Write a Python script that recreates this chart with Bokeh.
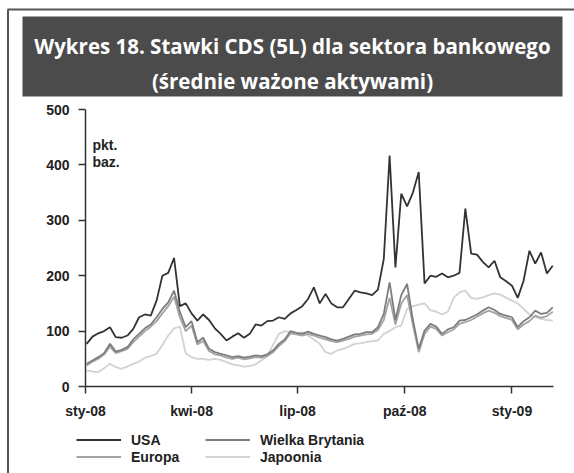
import pandas as pd
from bokeh.plotting import figure
from bokeh.models import (ColumnDataSource, Range1d, FixedTicker, Legend, LegendItem)
from bokeh.core.properties import value
from bokeh.embed import file_html
from bokeh.resources import INLINE

# ---------------- data (pkt. baz.) ----------------
dates = pd.date_range("2008-01-02", periods=81, freq="5D")

usa = [77, 90, 96, 100, 107, 89, 88, 92, 104, 125,
       130, 128, 155, 200, 205, 232, 145, 150, 132, 119,
       130, 120, 105, 95, 83, 90, 96, 88, 95, 112,
       110, 118, 119, 125, 122, 132, 138, 145, 158, 179,
       150, 167, 150, 143, 143, 158, 173, 170, 168, 165,
       175, 230, 417, 215, 348, 325, 350, 387, 186, 200,
       198, 204, 197, 200, 205, 321, 240, 238, 225, 215,
       227, 197, 190, 182, 160, 191, 245, 222, 242, 204,
       218]

wb = [41, 47, 53, 60, 77, 63, 66, 71, 85, 95,
      105, 112, 125, 140, 152, 173, 135, 107, 118, 80,
      88, 68, 62, 59, 56, 53, 55, 52, 54, 56,
      55, 58, 65, 77, 85, 100, 97, 95, 99, 95,
      92, 89, 85, 83, 86, 90, 94, 95, 98, 98,
      107, 131, 188, 120, 165, 185, 120, 68, 101, 113,
      108, 95, 103, 107, 119, 120, 125, 130, 137, 143,
      138, 131, 128, 125, 107, 118, 125, 137, 131, 133,
      143]

europa = [38, 45, 50, 58, 72, 60, 64, 68, 80, 90,
          100, 108, 118, 132, 145, 162, 125, 100, 110, 76,
          82, 64, 58, 56, 52, 50, 52, 49, 51, 53,
          52, 55, 62, 73, 82, 96, 94, 92, 95, 92,
          88, 85, 82, 80, 83, 86, 90, 92, 94, 95,
          102, 120, 160, 112, 150, 165, 112, 62, 95, 108,
          104, 92, 98, 103, 113, 116, 120, 126, 132, 137,
          133, 127, 124, 120, 103, 112, 118, 128, 124, 127,
          135]

japonia = [29, 27, 26, 33, 41, 35, 32, 36, 41, 45,
           52, 55, 59, 75, 92, 105, 108, 60, 53, 50,
           50, 48, 50, 48, 44, 40, 38, 36, 37, 40,
           47, 55, 75, 95, 100, 98, 96, 98, 92, 85,
           77, 62, 59, 65, 68, 72, 77, 78, 80, 82,
           83, 95, 100, 107, 110, 140, 145, 148, 150, 138,
           135, 130, 135, 160, 170, 173, 160, 158, 161, 165,
           168, 166, 160, 155, 150, 140, 130, 125, 122, 120,
           119]

series_names = ["USA", "Wielka Brytania", "Europa", "Japoonia"]
series_colors = ["#333333", "#7d7d7d", "#a3a3a3", "#d2d2d2"]

tick_dates = ["2008-01-01", "2008-04-01", "2008-07-01", "2008-10-01", "2009-01-01"]
tick_labels = ["sty-08", "kwi-08", "lip-08", "paź-08", "sty-09"]
y_ticks = [0, 100, 200, 300, 400, 500]
axis_x_start, axis_x_end = "2008-01-01", "2009-02-05 16:00"
axis_y_start, axis_y_end = 0, 500

title_lines = ["Wykres 18. Stawki CDS (5L) dla sektora bankowego",
               "(średnie ważone aktywami)"]
unit_lines = ["pkt.", "baz."]

# ---------------- layout (canvas pixels) ----------------
W, H = 574, 473
AX_LEFT, AX_RIGHT = 85, 553      # pixel x of plot-area left/right
AX_BOTTOM, AX_TOP = 386, 109     # pixel y of value 0 / value 500
FONT = "Liberation Sans"
DAY_MS = 86400000.0


def ms(d):
    return pd.Timestamp(d).timestamp() * 1000.0


x0, x1 = ms(axis_x_start), ms(axis_x_end)
ms_per_px = (x1 - x0) / (AX_RIGHT - AX_LEFT)
val_per_px = (axis_y_end - axis_y_start) / (AX_BOTTOM - AX_TOP)

p = figure(width=W, height=H, x_axis_type="datetime",
           x_range=Range1d(x0 - AX_LEFT * ms_per_px, x1 + (W - AX_RIGHT) * ms_per_px),
           y_range=Range1d(axis_y_start - (H - AX_BOTTOM) * val_per_px,
                           axis_y_end + AX_TOP * val_per_px),
           output_backend="svg", toolbar_location=None, min_border=0,
           outline_line_color=None)
p.extra_x_ranges = {"px": Range1d(0, W)}
p.extra_y_ranges = {"px": Range1d(H, 0)}
p.xgrid.visible = False
p.ygrid.visible = False

# decorations in pixel space
p.quad(left=[22], right=[562], top=[16], bottom=[96], fill_color="#4b4b4b", line_color=None,
       x_range_name="px", y_range_name="px")
p.segment(x0=[7], y0=[9], x1=[W], y1=[9], line_color="#555555", line_width=2,
          x_range_name="px", y_range_name="px")
p.segment(x0=[7.5], y0=[9], x1=[7.5], y1=[H], line_color="#555555", line_width=2,
          x_range_name="px", y_range_name="px")
p.text(x=[292, 292], y=[45, 80], text=title_lines, text_align="center",
       text_baseline="alphabetic", text_color="white", text_font=value("Open Sans"),
       text_font_style="bold", text_font_size="20.5px",
       x_range_name="px", y_range_name="px")
p.text(x=[92, 92], y=[144, 161], text=unit_lines, text_align="left",
       text_baseline="alphabetic", text_color="#222222", text_font=value(FONT),
       text_font_style="bold", text_font_size="14px",
       x_range_name="px", y_range_name="px")

# data series
src = ColumnDataSource(dict(date=dates, usa=usa, wb=wb, europa=europa, japonia=japonia))
r_jap = p.line("date", "japonia", source=src, line_color=series_colors[3], line_width=1.8)
r_eur = p.line("date", "europa", source=src, line_color=series_colors[2], line_width=1.8)
r_wb = p.line("date", "wb", source=src, line_color=series_colors[1], line_width=1.8)
r_usa = p.line("date", "usa", source=src, line_color=series_colors[0], line_width=1.8)

# axes fixed at the plot-area edges
tick_ms = [int(ms(d)) for d in tick_dates]
p.xaxis.ticker = FixedTicker(ticks=tick_ms)
p.xaxis.major_label_overrides = {k: lab for k, lab in zip(tick_ms, tick_labels)}
p.xaxis.fixed_location = axis_y_start
p.xaxis.bounds = (x0, x1)
p.yaxis.ticker = FixedTicker(ticks=y_ticks)
p.yaxis.fixed_location = x0
p.yaxis.bounds = (axis_y_start, axis_y_end)

for ax in (p.xaxis, p.yaxis):
    ax.axis_line_color = "#333333"
    ax.axis_line_width = 1.5
    ax.major_tick_line_color = "#333333"
    ax.major_tick_line_width = 1.5
    ax.major_tick_out = 7
    ax.major_tick_in = 0
    ax.minor_tick_out = 0
    ax.minor_tick_in = 0
    ax.major_label_text_font = FONT
    ax.major_label_text_font_style = "bold"
    ax.major_label_text_font_size = "14px"
    ax.major_label_text_color = "#222222"
p.xaxis.major_label_standoff = 9
p.yaxis.major_label_standoff = 9


def make_legend(items, loc):
    lg = Legend(items=items, orientation="horizontal", location=loc)
    lg.label_text_font = FONT
    lg.label_text_font_style = "bold"
    lg.label_text_font_size = "14px"
    lg.label_text_color = "#222222"
    lg.glyph_width = 45
    lg.glyph_height = 17
    lg.label_height = 17
    lg.label_width = 74
    lg.label_standoff = 10
    lg.padding = 0
    lg.spacing = 0
    lg.margin = 0
    lg.border_line_color = None
    lg.background_fill_alpha = 0
    p.add_layout(lg)


make_legend([LegendItem(label=series_names[0], renderers=[r_usa]),
             LegendItem(label=series_names[1], renderers=[r_wb])], (76, H - 448))
make_legend([LegendItem(label=series_names[2], renderers=[r_eur]),
             LegendItem(label=series_names[3], renderers=[r_jap])], (76, H - 465))

open("out.html", "w").write(file_html(p, INLINE))
